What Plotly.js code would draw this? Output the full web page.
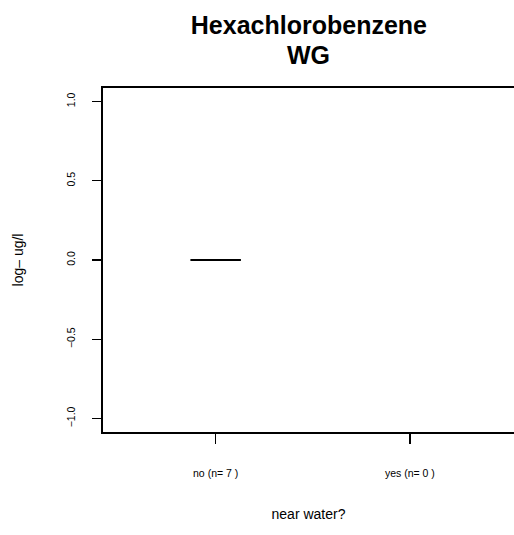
<!DOCTYPE html>
<html>
<head>
<meta charset="utf-8">
<script src="https://cdn.plot.ly/plotly-3.0.1.min.js"></script>
<style>html,body{margin:0;padding:0;overflow:hidden;background:#fff;}</style>
</head>
<body>
<div id="chart" style="width:514px;height:535px;"></div>
<script>
const categories = ["no", "yes"];
const counts = [7, 0];
const noValues = [0, 0, 0, 0, 0, 0, 0];
const yesValues = [];
const tickLabels = ["no (n= 7 )", "yes (n= 0 )"];
const yTicks = [-1.0, -0.5, 0.0, 0.5, 1.0];
const yTickText = ["\u22121.0", "\u22120.5", "0.0", "0.5", "1.0"];
const titleLine1 = "Hexachlorobenzene";
const titleLine2 = "WG";

const traces = [
  {
    type: "box",
    x: noValues.map(() => 1),
    y: noValues,
    width: 0.26,
    line: {color: "#000", width: 2},
    fillcolor: "rgba(255,255,255,0)",
    boxpoints: false,
    hoverinfo: "skip",
    showlegend: false
  }
];

const titleFont = {size: 25, family: "Liberation Sans, Arial, sans-serif", color: "#000"};

const layout = {
  width: 514,
  height: 535,
  margin: {l: 103, r: 0, t: 88, b: 103},
  paper_bgcolor: "#fff",
  plot_bgcolor: "#fff",
  font: {family: "Liberation Sans, Arial, sans-serif", color: "#000"},
  title: {
    text: "<b>" + titleLine1 + "</b>",
    font: titleFont,
    x: 0.601, xanchor: "center", y: 0.952, yanchor: "middle"
  },
  annotations: [
    {
      text: "<b>" + titleLine2 + "</b>",
      font: titleFont,
      xref: "paper", yref: "paper",
      x: 0.501, y: 1.0965,
      xanchor: "center", yanchor: "middle",
      showarrow: false
    }
  ],
  xaxis: {
    range: [0.42, 2.536],
    tickvals: [1, 2],
    ticktext: tickLabels,
    ticks: "outside",
    ticklen: 10,
    tickwidth: 1.5,
    tickcolor: "#000",
    ticklabelstandoff: 20,
    tickfont: {size: 10.5},
    showgrid: false,
    zeroline: false,
    showline: true,
    linecolor: "#000",
    linewidth: 2,
    mirror: true,
    title: {text: "near water?", font: {size: 14}, standoff: 32}
  },
  yaxis: {
    range: [-1.085, 1.085],
    tickvals: yTicks,
    ticktext: yTickText,
    tickangle: -90,
    ticks: "outside",
    ticklen: 9,
    tickwidth: 1.5,
    tickcolor: "#000",
    ticklabelstandoff: 13,
    tickfont: {size: 10.5},
    showgrid: false,
    zeroline: false,
    showline: true,
    linecolor: "#000",
    linewidth: 2,
    mirror: false,
    title: {text: "log\u2013 ug/l", font: {size: 14}, standoff: 38}
  }
};

Plotly.newPlot("chart", traces, layout, {displayModeBar: false, staticPlot: true});
</script>
</body>
</html>
